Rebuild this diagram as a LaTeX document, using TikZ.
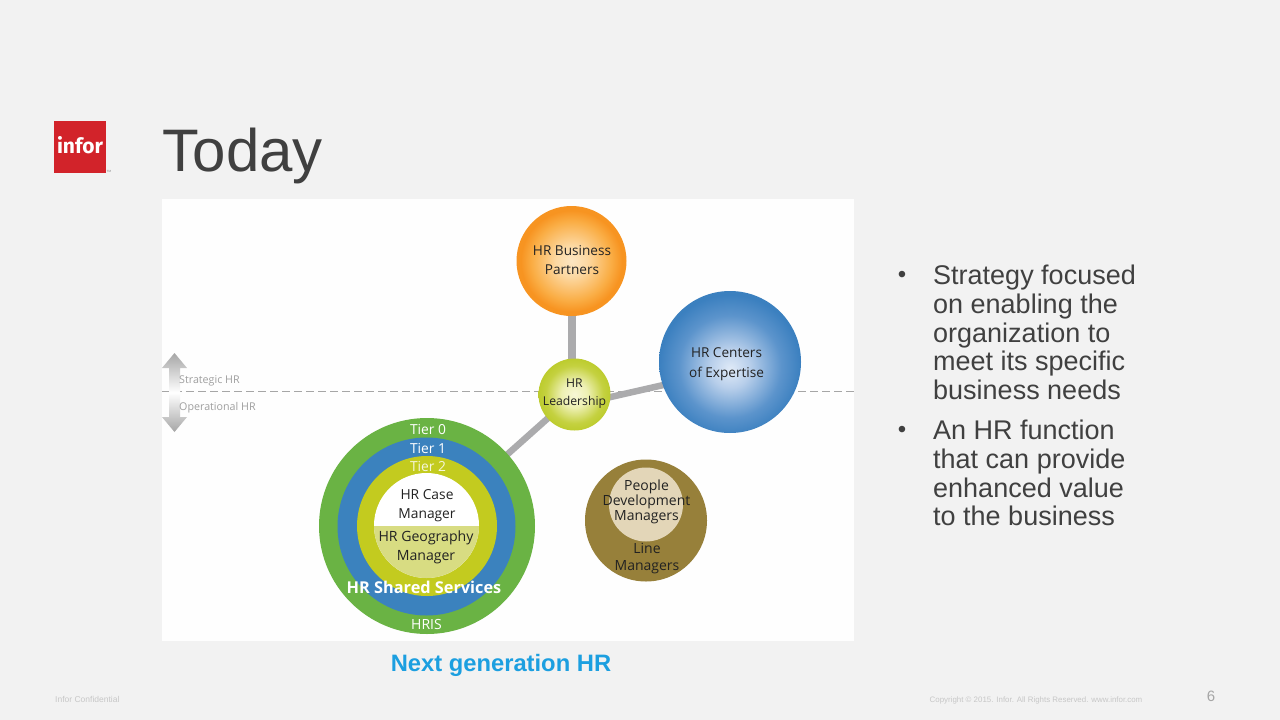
\documentclass[tikz,border=0pt]{standalone}
\usepackage{fontspec}
\setmainfont{Liberation Sans}
\newfontfamily\dgfont{Open Sans}
\newfontfamily\logofont{Fira Sans}
\usetikzlibrary{backgrounds}
\definecolor{pagebg}{HTML}{F2F2F2}
\definecolor{panel}{HTML}{FEFEFE}
\definecolor{ink}{HTML}{404040}
\definecolor{dark}{HTML}{222222}
\definecolor{conn}{HTML}{ABABAD}
\definecolor{ringG}{HTML}{6AB344}
\definecolor{ringB}{HTML}{3B82BE}
\definecolor{ringY}{HTML}{C3CB1F}
\definecolor{geo}{HTML}{D8DC82}
\definecolor{brown}{HTML}{97803A}
\definecolor{beige}{HTML}{E3D6B8}
\definecolor{logored}{HTML}{D2232A}
\definecolor{blueT}{HTML}{1C9FE0}
\pgfdeclareradialshading{orangeball}{\pgfpoint{0bp}{0bp}}{rgb(0bp)=(0.99,0.90,0.76);rgb(7bp)=(0.99,0.85,0.64);rgb(18bp)=(0.98,0.68,0.27);rgb(23bp)=(0.97,0.58,0.13);rgb(50bp)=(0.97,0.58,0.13)}
\pgfdeclareradialshading{blueball}{\pgfpoint{0bp}{-2.5bp}}{rgb(0bp)=(0.88,0.92,0.97);rgb(7bp)=(0.72,0.81,0.92);rgb(18bp)=(0.36,0.58,0.80);rgb(25bp)=(0.23,0.50,0.75);rgb(50bp)=(0.23,0.50,0.75)}
\pgfdeclareradialshading{greenball}{\pgfpoint{0bp}{0bp}}{rgb(0bp)=(0.97,0.97,0.84);rgb(9bp)=(0.93,0.94,0.70);rgb(20bp)=(0.77,0.82,0.25);rgb(25bp)=(0.74,0.80,0.18);rgb(50bp)=(0.74,0.80,0.18)}
\tikzset{
  ball/.style={circle,inner sep=0pt},
  ring/.style={circle,inner sep=0pt,minimum size=#1},
  tag/.style={inner sep=0pt,align=center,text=dark,font=\dgfont\fontsize{13.8}{19}\selectfont},
  wtag/.style={tag,text=white},
  link/.style={draw=conn,line width=#1},
  side/.style={inner sep=0pt,anchor=west,text=gray!75,font=\dgfont\fontsize{10.7}{13}\selectfont},
  foot/.style={inner sep=0pt,text=black!22},
  bodytext/.style={inner sep=0pt,anchor=north west,align=left,text=ink,font=\fontsize{27}{28.7}\selectfont},
  dot/.style={inner sep=0pt,text=ink,font=\fontsize{24}{25}\selectfont},
}
\begin{document}
\begin{tikzpicture}[x=1pt,y=-1pt]
\useasboundingbox (0,0) rectangle (1280,720);
% rings and balls
\node[ball,minimum size=110,shading=orangeball] (bp) at (571.5,261) {};
\node[ball,minimum size=142,shading=blueball] (coe) at (730,362) {};
\node[ball,minimum size=72,shading=greenball] (lead) at (574.5,394.5) {};
\node[tag,font=\dgfont\fontsize{13.6}{19}\selectfont] (bpt) at (572,260.5) {HR Business\\Partners};
\node[tag,font=\dgfont\fontsize{13.6}{20}\selectfont] (coet) at (726.5,364) {HR Centers\\of Expertise};
\node[tag,font=\dgfont\fontsize{12.2}{17.5}\selectfont] (leadt) at (574.5,393.5) {HR\\Leadership};
\node[ring=216,fill=ringG] (t0) at (427,526) {};
\node[ring=178,fill=ringB] (t1) at (426.5,526.5) {};
\node[ring=140,fill=ringY] (t2) at (427,526) {};
\node[ring=105,fill=white] (core) at (426.5,525.5) {};
\begin{scope}
  \clip (core.center) circle (52.5);
  \fill[geo] (370,526) rectangle (484,580);
\end{scope}
\node[tag] (case) at (427,505.5) {HR Case\\Manager};
\node[tag,font=\dgfont\fontsize{14.1}{19}\selectfont] (geog) at (426,547.5) {HR Geography\\Manager};
\node[wtag] (tier0) at (428,429) {Tier 0};
\node[wtag] (tier1) at (428,448) {Tier 1};
\node[wtag,text=white!85!ringY] (tier2) at (428,466) {Tier 2};
\node[wtag,font=\dgfont\bfseries\fontsize{16.3}{19}\selectfont] (hrss) at (424,587) {HR Shared Services};
\node[wtag,font=\dgfont\fontsize{14}{17}\selectfont] (hris) at (426.5,624) {HRIS};
\node[ring=122,fill=brown] (line) at (646,520.5) {};
\node[ring=74,fill=beige] (pdm) at (646,504.5) {};
\node[tag,font=\dgfont\fontsize{14}{15.2}\selectfont] (pdmt) at (646.5,502) {People\\Development\\Managers};
\node[tag,font=\dgfont\fontsize{14}{17}\selectfont] (linet) at (647,559) {Line\\Managers};
% side labels
\node[side] (sh) at (179,381) {Strategic HR};
\node[side] (oh) at (179,408) {Operational HR};
% title, text, footer
\node[inner sep=0pt,anchor=west,text=ink,font=\fontsize{60}{62}\selectfont] (title) at (162.5,156) {Today};
\node[fill=logored,minimum size=52,inner sep=0pt] (lg) at (80,147) {};
\node[inner sep=0pt,text=white,font=\logofont\bfseries\fontsize{21}{22}\selectfont] (lgt) at (80,145) {infor};
\node[inner sep=0pt,text=gray,font=\fontsize{3}{3}\selectfont] (tm) at (109,171.5) {TM};
\node[bodytext] (b1) at (933,265) {Strategy focused\\on enabling the\\organization to\\meet its specific\\business needs};
\node[bodytext] (b2) at (933,420) {An HR function\\that can provide\\enhanced value\\to the business};
\node[dot] (d1) at (902,277) {•};
\node[dot] (d2) at (902,432) {•};
\node[inner sep=0pt,text=blueT,font=\bfseries\fontsize{23.75}{26}\selectfont] (next) at (501,665.5) {Next generation HR};
\node[foot,anchor=west,font=\fontsize{8.5}{10}\selectfont] (conf) at (55,699) {Infor Confidential};
\node[foot,anchor=west,font=\fontsize{7.9}{10}\selectfont] (copy) at (929.5,700) {Copyright © 2015. Infor. All Rights Reserved. www.infor.com};
\node[inner sep=0pt,text=black!35,font=\fontsize{15}{16}\selectfont] (pg) at (1211,696) {6};
\begin{scope}[on background layer]
  \fill[pagebg] (0,0) rectangle (1280,720);
  \fill[panel] (162,199) rectangle (854,641);
  \coordinate (dl) at (162,391.5);
  \coordinate (dr) at (854,391.5);
  \draw[gray!70,line width=1.8,dash pattern=on 8pt off 4pt] (dl) -- (dr);
  \draw[link=8] (bp.center) -- (bp.center |- lead.center);
  \draw[link=6.5,shorten >=-2pt,shorten <=-2pt] (lead.356) -- (coe.199);
  \draw[link=6.5] (lead.center) -- (t0.center);
  \shade[top color=gray!70,bottom color=gray!70,middle color=white]
    (174.5,353) -- (187,368) -- (180,368) -- (180,417) -- (187,417) -- (174.5,432)
    -- (162,417) -- (169,417) -- (169,368) -- (162,368) -- cycle;
\end{scope}
\end{tikzpicture}
\end{document}
